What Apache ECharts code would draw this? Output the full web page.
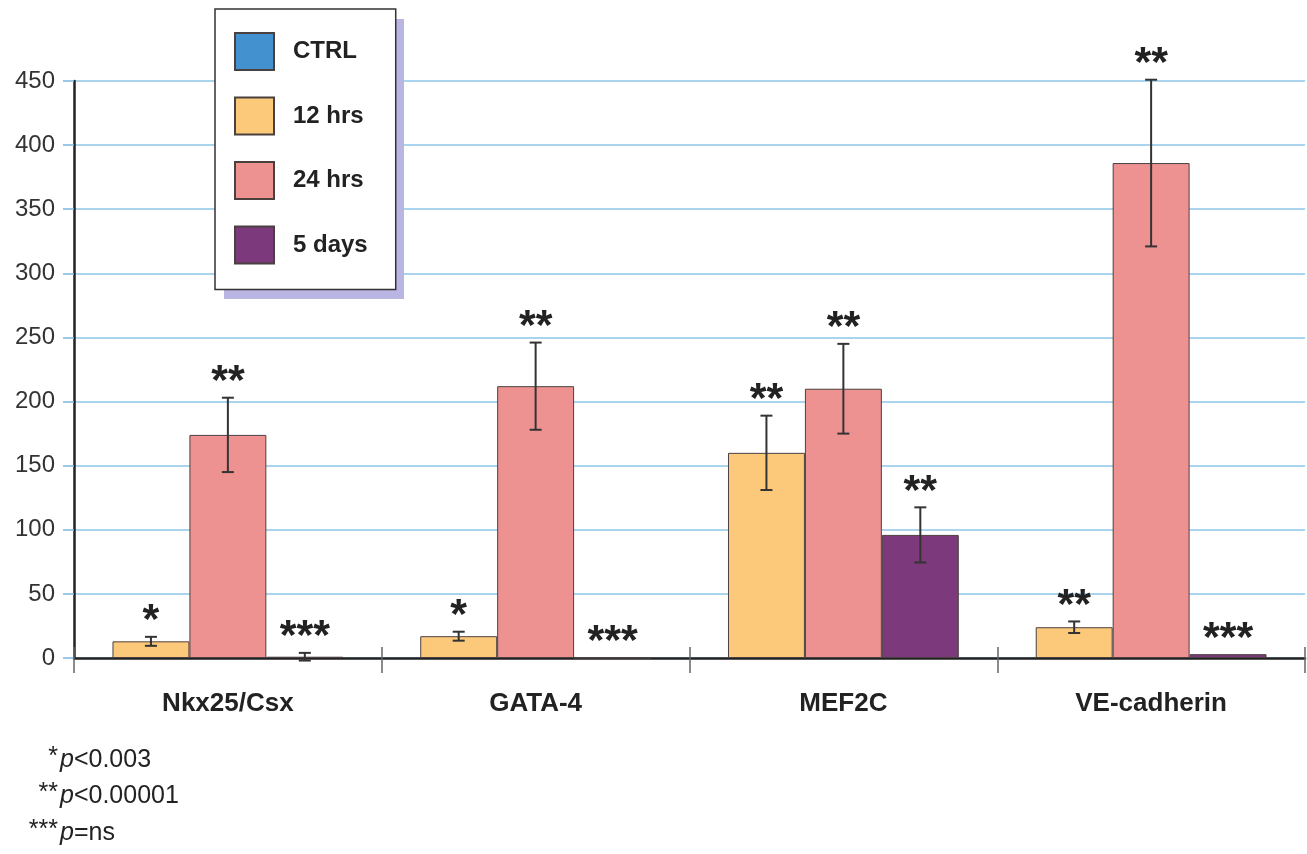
<!DOCTYPE html>
<html>
<head>
<meta charset="utf-8">
<script src="https://cdn.jsdelivr.net/npm/echarts@6/dist/echarts.min.js"></script>
<style>
html,body{margin:0;padding:0;background:#fff;}
#chart{width:1307px;height:854px;}
</style>
</head>
<body>
<div id="chart"></div>
<script>
const categories = ['Nkx25/Csx', 'GATA-4', 'MEF2C', 'VE-cadherin'];
const seriesNames = ['CTRL', '12 hrs', '24 hrs', '5 days'];
const ctrlValues = [null, null, null, null];
const hrs12Values = [13, 17, 160, 24];
const hrs24Values = [174, 212, 210, 386];
const days5Values = [1, 0, 96, 3];
const hrs12Errors = [3.5, 3.5, 29, 4.5];
const hrs24Errors = [29, 34, 35, 65];
const days5Errors = [3, 0, 21.5, 0];
const hrs12Stars = ['*', '*', '**', '**'];
const hrs24Stars = ['**', '**', '**', '**'];
const days5Stars = ['***', '***', '**', '***'];
const footnoteStars = ['*', '**', '***'];
const footnoteTexts = ['<0.003', '<0.00001', '=ns'];

const colors = {CTRL: '#4391cf', h12: '#fcc97a', h24: '#ee9291', d5: '#7c3a7c'};
const FONT = '"Liberation Sans", Arial, sans-serif';
const barRatio = 0.25;

// build error-bar items from arrays
const errorItems = [];
[[hrs12Values, hrs12Errors, hrs12Stars], [hrs24Values, hrs24Errors, hrs24Stars], [days5Values, days5Errors, days5Stars]]
  .forEach((grp, slot) => {
    grp[0].forEach((v, i) => {
      errorItems.push({value: [i, slot, v, grp[1][i]], star: grp[2][i]});
    });
  });

const chart = echarts.init(document.getElementById('chart'), null, {renderer: 'canvas'});

const barStyle = (c) => ({color: c, borderColor: '#4a4040', borderWidth: 1});

const option = {
  animation: false,
  backgroundColor: '#fff',
  grid: {left: 74, top: 81, right: 2, bottom: 196, containLabel: false},
  legend: {
    data: seriesNames,
    orient: 'vertical',
    left: 215, top: 9, z: 10,
    padding: [23, 28, 25, 19],
    itemWidth: 39, itemHeight: 37, itemGap: 25.5,
    backgroundColor: '#fff',
    borderColor: '#333', borderWidth: 1.5,
    icon: 'rect',
    selectedMode: false,
    textStyle: {fontFamily: FONT, fontSize: 24, fontWeight: 'bold', color: '#222', padding: [0, 0, 0, 14]}
  },
  xAxis: [{
    type: 'category', data: categories, boundaryGap: true,
    axisLine: {lineStyle: {color: '#222', width: 2.5}},
    axisTick: {show: true, length: 15, lineStyle: {color: '#666', width: 1.5}},
    axisLabel: {fontFamily: FONT, fontSize: 26, fontWeight: 'bold', color: '#222', margin: 33}
  }, {
    type: 'category', data: categories, boundaryGap: true, position: 'bottom',
    axisLine: {show: false},
    axisTick: {show: true, inside: true, length: 11, lineStyle: {color: '#666', width: 1.5}},
    axisLabel: {show: false}
  }],
  yAxis: {
    type: 'value', min: 0, max: 450, interval: 50,
    axisLine: {show: true, lineStyle: {color: '#222', width: 2.5}},
    axisTick: {show: true, length: 11, lineStyle: {color: '#7ab6de', width: 1.5}},
    splitLine: {lineStyle: {color: '#8ec5e8', width: 1.5}},
    axisLabel: {fontFamily: FONT, fontSize: 24, color: '#333', margin: 19}
  },
  series: [
    {name: '12 hrs', type: 'bar', stack: 'g12', data: hrs12Values, barWidth: (barRatio * 100) + '%', barGap: '0%', itemStyle: barStyle(colors.h12)},
    {name: 'CTRL', type: 'bar', stack: 'g12', data: ctrlValues, itemStyle: barStyle(colors.CTRL)},
    {name: '24 hrs', type: 'bar', data: hrs24Values, barWidth: (barRatio * 100) + '%', barGap: '0%', itemStyle: barStyle(colors.h24)},
    {name: '5 days', type: 'bar', data: days5Values, barWidth: (barRatio * 100) + '%', barGap: '0%', itemStyle: barStyle(colors.d5)},
    {
      name: 'errors', type: 'custom', z: 10,
      data: errorItems.map(d => d.value),
      encode: {x: 0, y: 2},
      renderItem: function (params, api) {
        const item = errorItems[params.dataIndex];
        const cat = api.value(0), slot = api.value(1), v = api.value(2), e = api.value(3);
        const band = api.size([1, 0])[0];
        const cx = api.coord([cat, 0])[0] + (slot - 1) * band * barRatio;
        const top = api.coord([cat, v + e])[1];
        const bot = api.coord([cat, v - e])[1];
        const cap = 6;
        const ls = {stroke: '#333', lineWidth: 2};
        const children = [];
        if (e > 0) {
          children.push({type: 'line', shape: {x1: cx, y1: top, x2: cx, y2: bot}, style: ls});
          children.push({type: 'line', shape: {x1: cx - cap, y1: top, x2: cx + cap, y2: top}, style: ls});
          children.push({type: 'line', shape: {x1: cx - cap, y1: bot, x2: cx + cap, y2: bot}, style: ls});
        }
        children.push({
          type: 'text',
          style: {text: item.star, x: cx, y: top + 6, textAlign: 'center', textVerticalAlign: 'bottom',
                  font: 'bold 43px ' + FONT, fill: '#222'}
        });
        return {type: 'group', children: children};
      }
    }
  ],
  graphic: [
    {type: 'rect', z: 1, shape: {x: 224, y: 19, width: 180, height: 280}, style: {fill: '#bab6e3'}}
  ].concat(footnoteStars.map((s, i) => ({
    type: 'group',
    children: [
      {type: 'text', x: 58, y: 760 + i * 36.5 - 3,
       style: {text: s, font: '25px ' + FONT, fill: '#222', textAlign: 'right', textVerticalAlign: 'middle'}},
      {type: 'text', x: 60, y: 760 + i * 36.5,
       style: {text: '{i|p}{n|' + footnoteTexts[i] + '}', textAlign: 'left', textVerticalAlign: 'middle',
               rich: {i: {font: 'italic 25px ' + FONT, fill: '#222'}, n: {font: '25px ' + FONT, fill: '#222'}}}}
    ]
  })))
};
chart.setOption(option);
</script>
</body>
</html>
